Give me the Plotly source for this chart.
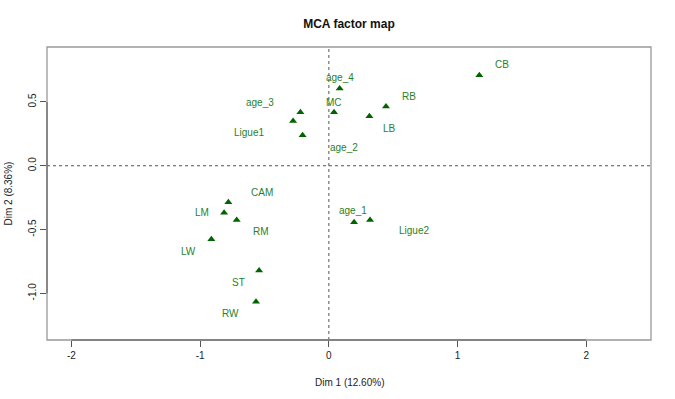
import plotly.graph_objects as go

categories = ["CB", "RB", "LB", "age_4", "MC", "age_3", "Ligue1", "age_2",
              "CAM", "LM", "RM", "LW", "ST", "RW", "age_1", "Ligue2"]
dim1 = [1.169, 0.444, 0.315, 0.084, 0.040, -0.221, -0.278, -0.204,
        -0.781, -0.814, -0.716, -0.913, -0.542, -0.566, 0.196, 0.320]
dim2 = [0.709, 0.465, 0.389, 0.606, 0.420, 0.420, 0.350, 0.240,
        -0.286, -0.368, -0.425, -0.576, -0.822, -1.067, -0.443, -0.425]
x_ticks = [-2, -1, 0, 1, 2]
y_ticks = [-1.0, -0.5, 0.0, 0.5]

# label offsets in pixels (dx right, dy down) - layout only
label_dx = [23, 23, 20, 0, 0, -40, -44, 41, 34, -22, 24, -23, -21, -26, -1, 44]
label_dy = [-11, -10, 12, -11, -10, -10, 11, 12, -10, 0, 12, 12, 12, 12, -12, 11]

GREEN = "#006400"
TEXT_GREEN = "#2a7f2a"
FONT = "Liberation Sans, Arial, sans-serif"

fig = go.Figure()
fig.add_trace(go.Scatter(
    x=dim1, y=dim2, mode="markers",
    marker=dict(symbol="triangle-up", size=7, color=GREEN),
    hoverinfo="text", text=categories, showlegend=False))

for name, x, y, dx, dy in zip(categories, dim1, dim2, label_dx, label_dy):
    fig.add_annotation(x=x, y=y, text=name, showarrow=False,
                       xshift=dx, yshift=-dy,
                       font=dict(family=FONT, size=10, color=TEXT_GREEN))

# dashed reference lines
fig.add_shape(type="line", xref="x", yref="paper", x0=0, x1=0, y0=0, y1=1,
              line=dict(color="#555555", width=1, dash="3px,3px"))
fig.add_shape(type="line", xref="paper", yref="y", x0=0, x1=1, y0=0, y1=0,
              line=dict(color="#555555", width=1, dash="3px,3px"))
# plot box
fig.add_shape(type="rect", xref="paper", yref="paper", x0=0, x1=1, y0=0, y1=1,
              line=dict(color="#999999", width=1.3))
# axis segments (R style)
fig.add_shape(type="line", xref="x", yref="paper", x0=x_ticks[0], x1=x_ticks[-1],
              y0=0, y1=0, line=dict(color="#555555", width=1))
fig.add_shape(type="line", xref="paper", yref="y", x0=0, x1=0,
              y0=y_ticks[0], y1=y_ticks[-1], line=dict(color="#555555", width=1))

W, H = 675, 399
L, R, T, B = 47, 24, 47, 59
fig.update_layout(
    width=W, height=H,
    margin=dict(l=L, r=R, t=T, b=B, autoexpand=False),
    paper_bgcolor="white", plot_bgcolor="white",
    font=dict(family=FONT, size=10, color="#222222"),
    title=dict(text="<b>MCA factor map</b>", x=0.5, xref="paper",
               y=1 - 24 / H, yanchor="middle",
               font=dict(family=FONT, size=12, color="#111111")),
    xaxis=dict(range=[-2.19, 2.503], tickmode="array", tickvals=x_ticks,
               ticktext=[str(v) for v in x_ticks], automargin=False,
               showgrid=False, zeroline=False, showline=False,
               ticks="outside", ticklen=6, tickcolor="#555555",
               tickfont=dict(size=10), fixedrange=True),
    yaxis=dict(range=[-1.366, 0.931], tickmode="array", tickvals=y_ticks,
               ticktext=["%.1f" % v for v in y_ticks], tickangle=-90,
               automargin=False,
               showgrid=False, zeroline=False, showline=False,
               ticks="outside", ticklen=6, tickcolor="#555555",
               tickfont=dict(size=10), fixedrange=True),
)
fig.add_annotation(xref="paper", yref="paper", x=0.5, y=-(382 - (H - B)) / (H - T - B),
                   text="Dim 1 (12.60%)", showarrow=False, yanchor="middle",
                   font=dict(family=FONT, size=10, color="#222222"))
fig.add_annotation(xref="paper", yref="paper", x=-(L - 8) / (W - L - R), y=0.5,
                   text="Dim 2 (8.36%)", showarrow=False, textangle=-90,
                   xanchor="center", font=dict(family=FONT, size=10, color="#222222"))

fig.write_html("out.html", config={"displayModeBar": False},
               post_script="document.body.style.margin='0';document.body.style.padding='0';")
